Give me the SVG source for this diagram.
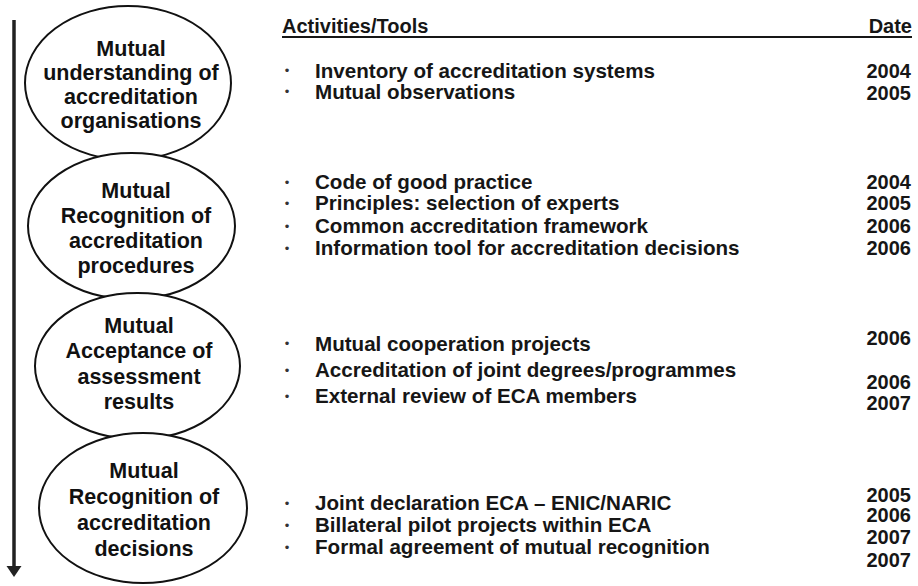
<svg xmlns="http://www.w3.org/2000/svg" width="918" height="586" viewBox="0 0 918 586">
  <style>
    .stage { fill: #ffffff; stroke: #111111; stroke-width: 2; }
    .stage-label { font-family: "Liberation Sans", Arial, sans-serif; font-weight: bold; font-size: 21.5px; fill: #111111; text-anchor: middle; }
    .item { font-family: "Liberation Sans", Arial, sans-serif; font-weight: bold; font-size: 20.6px; fill: #161616; }
    .bullet { font-family: "Liberation Sans", Arial, sans-serif; font-size: 13px; fill: #333333; text-anchor: middle; }
    .date { font-family: "Liberation Sans", Arial, sans-serif; font-weight: bold; font-size: 20px; fill: #161616; text-anchor: end; }
    .head { font-family: "Liberation Sans", Arial, sans-serif; font-weight: bold; font-size: 20px; fill: #161616; }
  </style>

  <rect width="918" height="586" fill="#ffffff"/>

  <!-- timeline arrow -->
  <g id="connectors">
    <line x1="14" y1="20" x2="14" y2="567" stroke="#222222" stroke-width="3.5"/>
    <polygon points="6.5,566 21.5,566 14,577" fill="#222222"/>
  </g>

  <!-- stages -->
  <g id="stage-understanding">
    <ellipse class="stage" cx="128" cy="83" rx="103" ry="77"/>
    <text class="stage-label" x="131" y="56">Mutual</text>
    <text class="stage-label" x="131" y="80">understanding of</text>
    <text class="stage-label" x="131" y="104">accreditation</text>
    <text class="stage-label" x="131" y="128">organisations</text>
  </g>
  <g id="stage-procedures">
    <ellipse class="stage" cx="131.5" cy="226" rx="103.5" ry="73"/>
    <text class="stage-label" x="136" y="198">Mutual</text>
    <text class="stage-label" x="136" y="223">Recognition of</text>
    <text class="stage-label" x="136" y="248">accreditation</text>
    <text class="stage-label" x="136" y="273">procedures</text>
  </g>
  <g id="stage-acceptance">
    <ellipse class="stage" cx="137.5" cy="366" rx="102.5" ry="73"/>
    <text class="stage-label" x="139" y="333">Mutual</text>
    <text class="stage-label" x="139" y="358">Acceptance of</text>
    <text class="stage-label" x="139" y="384">assessment</text>
    <text class="stage-label" x="139" y="409">results</text>
  </g>
  <g id="stage-decisions">
    <ellipse class="stage" cx="143" cy="508" rx="104" ry="75"/>
    <text class="stage-label" x="144" y="478">Mutual</text>
    <text class="stage-label" x="144" y="504">Recognition of</text>
    <text class="stage-label" x="144" y="530">accreditation</text>
    <text class="stage-label" x="144" y="556">decisions</text>
  </g>

  <!-- table header -->
  <g id="header">
    <text class="head" x="282" y="33">Activities/Tools</text>
    <text class="head" x="912" y="33" text-anchor="end">Date</text>
    <line x1="282" y1="37" x2="912" y2="37" stroke="#161616" stroke-width="2"/>
  </g>

  <!-- activities for stage 1 -->
  <g id="activities-understanding">
    <text class="bullet" x="287" y="75">•</text>
    <text class="item" x="315" y="78">Inventory of accreditation systems</text>
    <text class="bullet" x="287" y="96">•</text>
    <text class="item" x="315" y="99">Mutual observations</text>
    <text class="date" x="911" y="78">2004</text>
    <text class="date" x="911" y="100">2005</text>
  </g>

  <!-- activities for stage 2 -->
  <g id="activities-procedures">
    <text class="bullet" x="287" y="187">•</text>
    <text class="item" x="315" y="189">Code of good practice</text>
    <text class="bullet" x="287" y="208">•</text>
    <text class="item" x="315" y="210">Principles: selection of experts</text>
    <text class="bullet" x="287" y="231">•</text>
    <text class="item" x="315" y="233">Common accreditation framework</text>
    <text class="bullet" x="287" y="253">•</text>
    <text class="item" x="315" y="255">Information tool for accreditation decisions</text>
    <text class="date" x="911" y="189">2004</text>
    <text class="date" x="911" y="210">2005</text>
    <text class="date" x="911" y="233">2006</text>
    <text class="date" x="911" y="255">2006</text>
  </g>

  <!-- activities for stage 3 -->
  <g id="activities-acceptance">
    <text class="bullet" x="287" y="348">•</text>
    <text class="item" x="315" y="351" font-size="23px">Mutual cooperation projects</text>
    <text class="bullet" x="287" y="375">•</text>
    <text class="item" x="315" y="377">Accreditation of joint degrees/programmes</text>
    <text class="bullet" x="287" y="401">•</text>
    <text class="item" x="315" y="403">External review of ECA members</text>
    <text class="date" x="911" y="345">2006</text>
    <text class="date" x="911" y="389">2006</text>
    <text class="date" x="911" y="410">2007</text>
  </g>

  <!-- activities for stage 4 -->
  <g id="activities-decisions">
    <text class="bullet" x="287" y="508">•</text>
    <text class="item" x="315" y="510">Joint declaration ECA – ENIC/NARIC</text>
    <text class="bullet" x="287" y="530">•</text>
    <text class="item" x="315" y="532">Billateral pilot projects within ECA</text>
    <text class="bullet" x="287" y="552">•</text>
    <text class="item" x="315" y="554">Formal agreement of mutual recognition</text>
    <text class="date" x="911" y="502">2005</text>
    <text class="date" x="911" y="522">2006</text>
    <text class="date" x="911" y="544">2007</text>
    <text class="date" x="911" y="567">2007</text>
  </g>
</svg>
